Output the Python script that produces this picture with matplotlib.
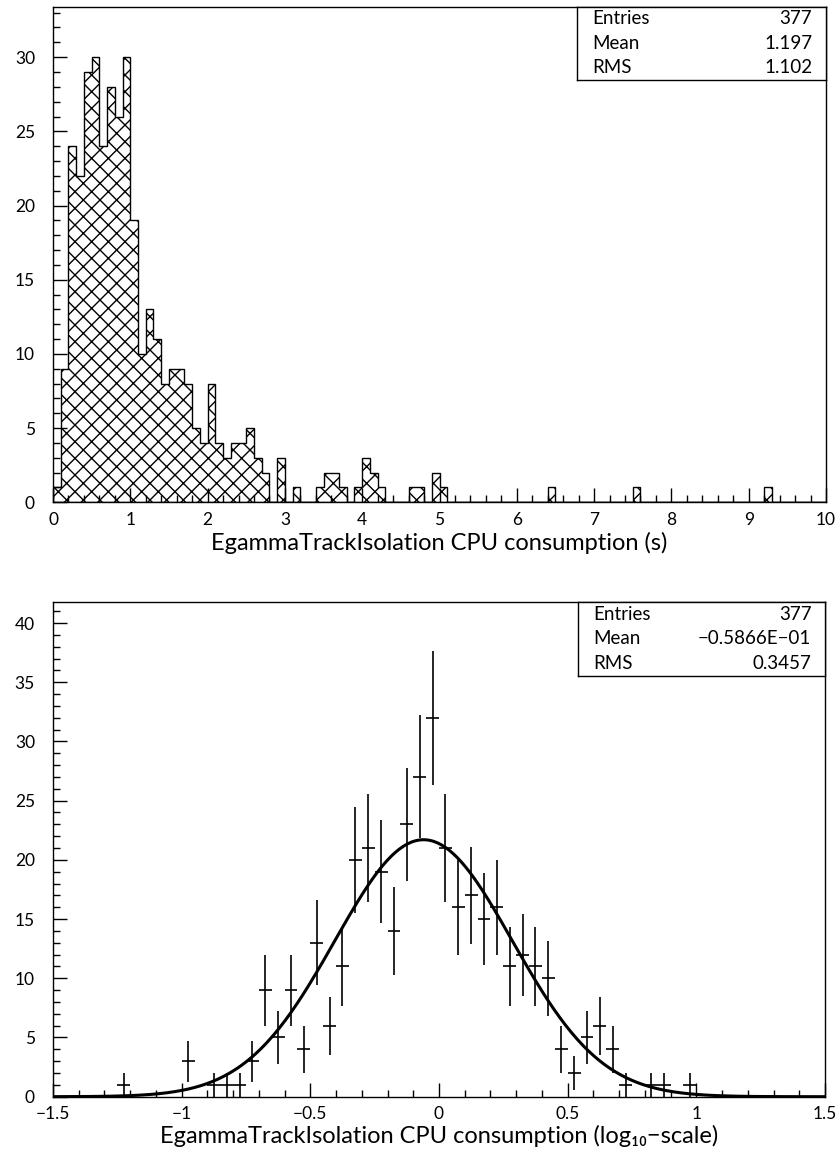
import matplotlib
matplotlib.use("Agg")
import matplotlib.pyplot as plt
import numpy as np

# top histogram: CPU time (s), 100 bins of 0.1 s from 0 to 10
top_edges = np.linspace(0, 10, 101)
top_counts = np.zeros(100)
top_counts[:51] = [1, 9, 24, 22, 29, 30, 24, 28, 26, 30,
                   19, 10, 13, 11, 8, 9, 9, 8, 5, 4,
                   8, 4, 3, 4, 4, 5, 3, 2, 0, 3,
                   0, 1, 0, 0, 1, 2, 2, 1, 0, 1,
                   3, 2, 1, 0, 0, 0, 1, 1, 0, 2,
                   1]
top_counts[64] = 1
top_counts[75] = 1
top_counts[92] = 1
top_stats = [("Entries", "377"), ("Mean", "1.197"), ("RMS", "1.102")]

# bottom histogram: log10 of CPU time, 60 bins of 0.05 from -1.5 to 1.5
log_edges = np.linspace(-1.5, 1.5, 61)
log_counts = np.array([0, 0, 0, 0, 0, 1, 0, 0, 0, 0,
                       3, 0, 1, 1, 1, 3, 9, 5, 9, 4,
                       13, 6, 11, 20, 21, 19, 14, 23, 27, 32,
                       21, 16, 17, 15, 16, 11, 12, 11, 10, 4,
                       2, 5, 6, 4, 1, 0, 1, 1, 0, 1,
                       0, 0, 0, 0, 0, 0, 0, 0, 0, 0], dtype=float)
log_stats = [("Entries", "377"), ("Mean", "\u22120.5866E\u221201"), ("RMS", "0.3457")]

# gaussian fit parameters
fit_amp = 21.7
fit_mean = -0.06
fit_sigma = 0.345

plt.rcParams['font.family'] = ['Lato', 'DejaVu Sans']
plt.rcParams['hatch.linewidth'] = 1.0
plt.rcParams['axes.linewidth'] = 1.0

fig = plt.figure(figsize=(8.39, 11.55), dpi=100)
W, H = 839.0, 1155.0


def make_axes(left, top, right, bottom):
    return fig.add_axes([left / W, 1 - bottom / H, (right - left) / W, (bottom - top) / H])


def style(ax):
    ax.tick_params(which='both', direction='in', top=False, right=False, width=1.0)
    ax.tick_params(which='major', length=10, labelsize=12.5)
    ax.tick_params(which='minor', length=5)
    ax.tick_params(axis='y', pad=13)
    ax.tick_params(axis='x', pad=7)


def stats_box(rows, left, top, right, bottom):
    box = make_axes(left, top, right, bottom)
    box.set_xticks([])
    box.set_yticks([])
    box.set_xlim(0, 1)
    box.set_ylim(0, 1)
    n = len(rows)
    for i, (name, val) in enumerate(rows):
        y = 1 - (i + 0.5) / n
        box.text(0.06, y, name, ha='left', va='center', fontsize=13.5)
        box.text(0.945, y, val, ha='right', va='center', fontsize=13.5)


# ---- top panel
ax1 = make_axes(53, 6.7, 826, 502.3)
centers = 0.5 * (top_edges[:-1] + top_edges[1:])
ax1.hist(centers, bins=top_edges, weights=top_counts, histtype='stepfilled',
         facecolor='white', edgecolor='black', hatch='xx', linewidth=1.0)
ax1.set_xlim(0, 10)
ax1.set_ylim(0, 33.4)
ax1.set_xticks(np.arange(0, 11, 1))
ax1.set_xticks(np.arange(0, 10.01, 0.2), minor=True)
ax1.set_yticks(np.arange(0, 31, 5))
ax1.set_yticks(np.arange(0, 34, 1), minor=True)
style(ax1)
ax1.set_xlabel("EgammaTrackIsolation CPU consumption (s)", fontsize=17, labelpad=3)
stats_box(top_stats, 577, 6.7, 826, 80)

# ---- bottom panel
ax2 = make_axes(53, 601.7, 825, 1096.7)
lc = 0.5 * (log_edges[:-1] + log_edges[1:])
nz = log_counts > 0
ax2.errorbar(lc[nz], log_counts[nz], xerr=0.025, yerr=np.sqrt(log_counts[nz]),
             fmt='none', ecolor='black', elinewidth=1.2, capsize=0)
xf = np.linspace(-1.5, 1.5, 400)
ax2.plot(xf, fit_amp * np.exp(-0.5 * ((xf - fit_mean) / fit_sigma) ** 2),
         color='black', linewidth=2.2)
ax2.set_xlim(-1.5, 1.5)
ax2.set_ylim(0, 41.8)
ax2.set_xticks(np.arange(-1.5, 1.51, 0.5))
ax2.set_xticklabels(["\u22121.5", "\u22121", "\u22120.5", "0", "0.5", "1", "1.5"])
ax2.set_xticks(np.arange(-1.5, 1.51, 0.1), minor=True)
ax2.set_yticks(np.arange(0, 41, 5))
ax2.set_yticks(np.arange(0, 42, 1), minor=True)
style(ax2)
ax2.set_xlabel("EgammaTrackIsolation CPU consumption (log\u2081\u2080\u2212scale)",
               fontsize=17, labelpad=2)
stats_box(log_stats, 578, 601.7, 825, 675.7)

fig.savefig("out.png", dpi=100)
